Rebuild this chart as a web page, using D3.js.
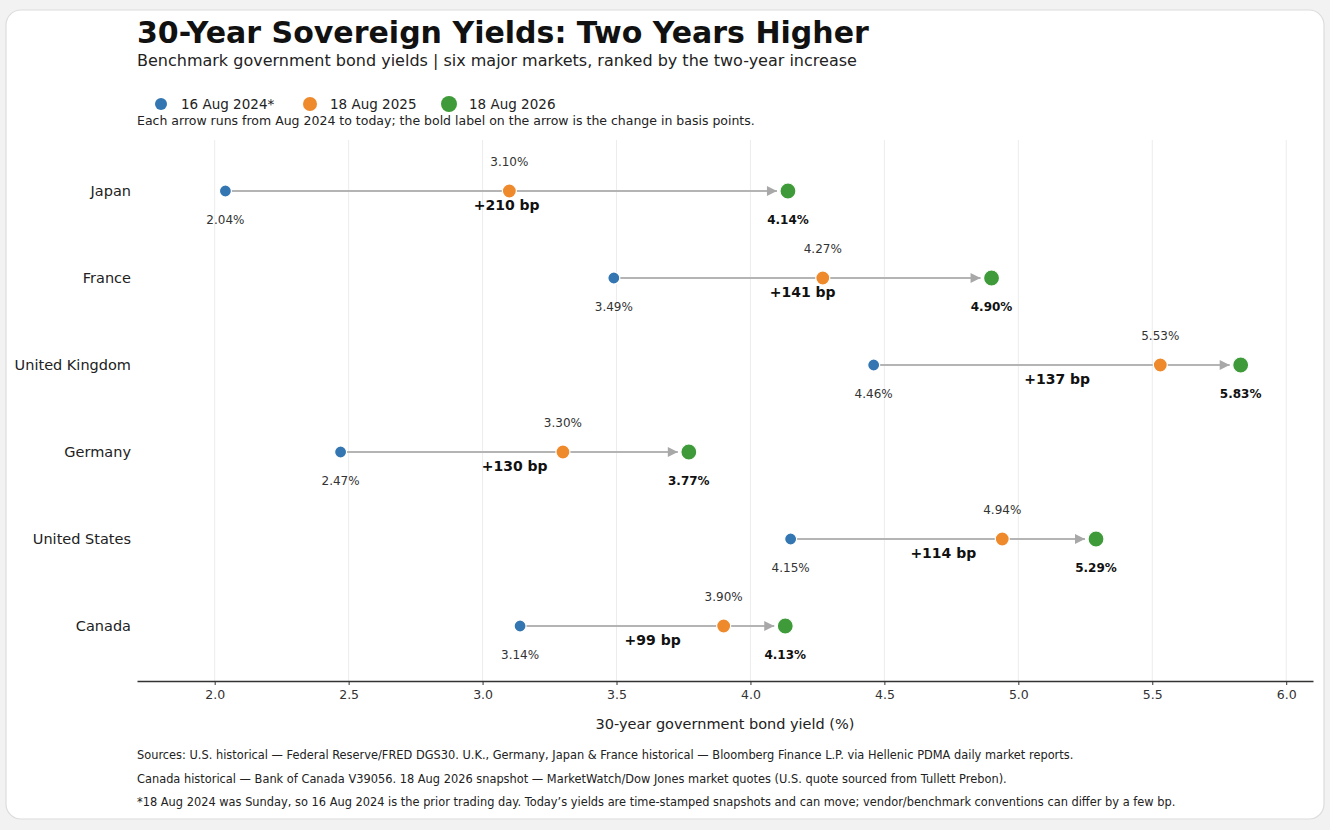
<!DOCTYPE html>
<html>
<head>
<meta charset="utf-8">
<script src="https://cdn.jsdelivr.net/npm/d3@7"></script>
<style>
  body { margin: 0; background: #f2f2f2; }
  svg { display: block; font-family: "DejaVu Sans", sans-serif; }
</style>
</head>
<body>
<svg id="chart" width="1330" height="830"></svg>
<script>
// data
const countries = ['Japan', 'France', 'United Kingdom', 'Germany', 'United States', 'Canada'];
const yield2024 = [2.04, 3.49, 4.46, 2.47, 4.15, 3.14];
const yield2025 = [3.10, 4.27, 5.53, 3.30, 4.94, 3.90];
const yield2026 = [4.14, 4.90, 5.83, 3.77, 5.29, 4.13];
const xTicks = [2.0, 2.5, 3.0, 3.5, 4.0, 4.5, 5.0, 5.5, 6.0];
const seriesNames = ['16 Aug 2024*', '18 Aug 2025', '18 Aug 2026'];
const seriesColors = ['#3476b1', '#ee8a2c', '#3f9b39'];
const footnotes = [
  'Sources: U.S. historical \u2014 Federal Reserve/FRED DGS30. U.K., Germany, Japan & France historical \u2014 Bloomberg Finance L.P. via Hellenic PDMA daily market reports.',
  'Canada historical \u2014 Bank of Canada V39056. 18 Aug 2026 snapshot \u2014 MarketWatch/Dow Jones market quotes (U.S. quote sourced from Tullett Prebon).',
  '*18 Aug 2024 was Sunday, so 16 Aug 2024 is the prior trading day. Today\u2019s yields are time-stamped snapshots and can move; vendor/benchmark conventions can differ by a few bp.'
];

const rows = countries.map((c, i) => ({
  country: c, a: yield2024[i], b: yield2025[i], c: yield2026[i],
  bp: Math.round((yield2026[i] - yield2024[i]) * 100)
}));

const svg = d3.select('#chart');

// card background
svg.append('rect')
  .attr('x', 6).attr('y', 10).attr('width', 1318).attr('height', 809)
  .attr('rx', 15).attr('fill', '#fff').attr('stroke', '#dcdcdc').attr('stroke-width', 1.2);

const plotLeft = 137, plotRight = 1313, plotTop = 140, plotBottom = 681;

const x = d3.scaleLinear().domain([1.71, 6.1]).range([plotLeft, plotRight]);
const y = d3.scalePoint().domain(countries).range([191, 626]);

// gridlines
svg.append('g').selectAll('line')
  .data(xTicks).enter().append('line')
  .attr('x1', d => x(d)).attr('x2', d => x(d))
  .attr('y1', plotTop).attr('y2', plotBottom)
  .attr('stroke', '#ececec').attr('stroke-width', 1);

// x axis
const xAxis = svg.append('g')
  .attr('transform', `translate(0, ${plotBottom})`)
  .call(d3.axisBottom(x).tickValues(xTicks).tickFormat(d3.format('.1f')).tickSize(4).tickSizeOuter(0));
xAxis.select('.domain').attr('stroke', '#333').attr('stroke-width', 1.4);
xAxis.selectAll('.tick line').attr('stroke', '#333');
xAxis.selectAll('.tick text')
  .attr('font-family', '"DejaVu Sans", sans-serif').attr('font-size', 12.5).attr('fill', '#333').attr('dy', '0.9em');

svg.append('text')
  .attr('x', (plotLeft + plotRight) / 2).attr('y', 729)
  .attr('text-anchor', 'middle').attr('font-size', 14.5).attr('fill', '#222')
  .text('30-year government bond yield (%)');

// y labels
svg.append('g').selectAll('text')
  .data(countries).enter().append('text')
  .attr('x', 131).attr('y', d => y(d)).attr('dy', '0.35em')
  .attr('text-anchor', 'end').attr('font-size', 14.5).attr('fill', '#222')
  .text(d => d);

// arrowhead
svg.append('defs').append('marker')
  .attr('id', 'head')
  .attr('viewBox', '0 0 10 10').attr('refX', 10).attr('refY', 5)
  .attr('markerWidth', 11).attr('markerHeight', 10)
  .attr('markerUnits', 'userSpaceOnUse').attr('orient', 'auto')
  .append('path').attr('d', 'M0,0 L10,5 L0,10 Z').attr('fill', '#a8a8a8');

const g = svg.append('g');

g.selectAll('line.arrow')
  .data(rows).enter().append('line')
  .attr('class', 'arrow')
  .attr('x1', d => x(d.a) + 6).attr('x2', d => x(d.c) - 11)
  .attr('y1', d => y(d.country)).attr('y2', d => y(d.country))
  .attr('stroke', '#b4b4b4').attr('stroke-width', 2)
  .attr('marker-end', 'url(#head)');

const keys = ['a', 'b', 'c'];
const radii = [6, 7, 8];
keys.forEach((k, i) => {
  g.selectAll('circle.s' + k)
    .data(rows).enter().append('circle')
    .attr('cx', d => x(d[k])).attr('cy', d => y(d.country))
    .attr('r', radii[i]).attr('fill', seriesColors[i])
    .attr('stroke', '#fff').attr('stroke-width', 1.2);
});

// value labels
g.selectAll('text.la')
  .data(rows).enter().append('text')
  .attr('x', d => x(d.a)).attr('y', d => y(d.country) + 33)
  .attr('text-anchor', 'middle').attr('font-size', 12).attr('fill', '#333')
  .text(d => d.a.toFixed(2) + '%');

g.selectAll('text.lb')
  .data(rows).enter().append('text')
  .attr('x', d => x(d.b)).attr('y', d => y(d.country) - 25)
  .attr('text-anchor', 'middle').attr('font-size', 12).attr('fill', '#333')
  .text(d => d.b.toFixed(2) + '%');

g.selectAll('text.lc')
  .data(rows).enter().append('text')
  .attr('x', d => x(d.c)).attr('y', d => y(d.country) + 33)
  .attr('text-anchor', 'middle').attr('font-size', 12).attr('font-weight', 'bold').attr('fill', '#111')
  .text(d => d.c.toFixed(2) + '%');

g.selectAll('text.bp')
  .data(rows).enter().append('text')
  .attr('x', d => x((d.a + d.c) / 2)).attr('y', d => y(d.country) + 19)
  .attr('text-anchor', 'middle').attr('font-size', 14).attr('font-weight', 'bold').attr('fill', '#111')
  .text(d => '+' + d.bp + ' bp');

// title block
svg.append('text')
  .attr('x', 137).attr('y', 43)
  .attr('font-size', 30).attr('font-weight', 'bold').attr('fill', '#111')
  .text('30-Year Sovereign Yields: Two Years Higher');

svg.append('text')
  .attr('x', 137).attr('y', 66)
  .attr('font-size', 16).attr('fill', '#222')
  .text('Benchmark government bond yields | six major markets, ranked by the two-year increase');

// legend
const legendX = [161, 310, 449];
const legend = svg.append('g').selectAll('g')
  .data(seriesNames).enter().append('g')
  .attr('transform', (d, i) => `translate(${legendX[i]}, 104)`);
legend.append('circle')
  .attr('r', (d, i) => radii[i]).attr('fill', (d, i) => seriesColors[i]);
legend.append('text')
  .attr('x', 20).attr('y', 4.5)
  .attr('font-size', 13.5).attr('fill', '#222')
  .text(d => d);

svg.append('text')
  .attr('x', 137).attr('y', 125)
  .attr('font-size', 12.5).attr('fill', '#222')
  .text('Each arrow runs from Aug 2024 to today; the bold label on the arrow is the change in basis points.');

// footnotes
svg.append('g').selectAll('text')
  .data(footnotes).enter().append('text')
  .attr('x', 137).attr('y', (d, i) => 759 + i * 23.5)
  .attr('font-size', 11.4).attr('fill', '#222')
  .text(d => d);
</script>
</body>
</html>
